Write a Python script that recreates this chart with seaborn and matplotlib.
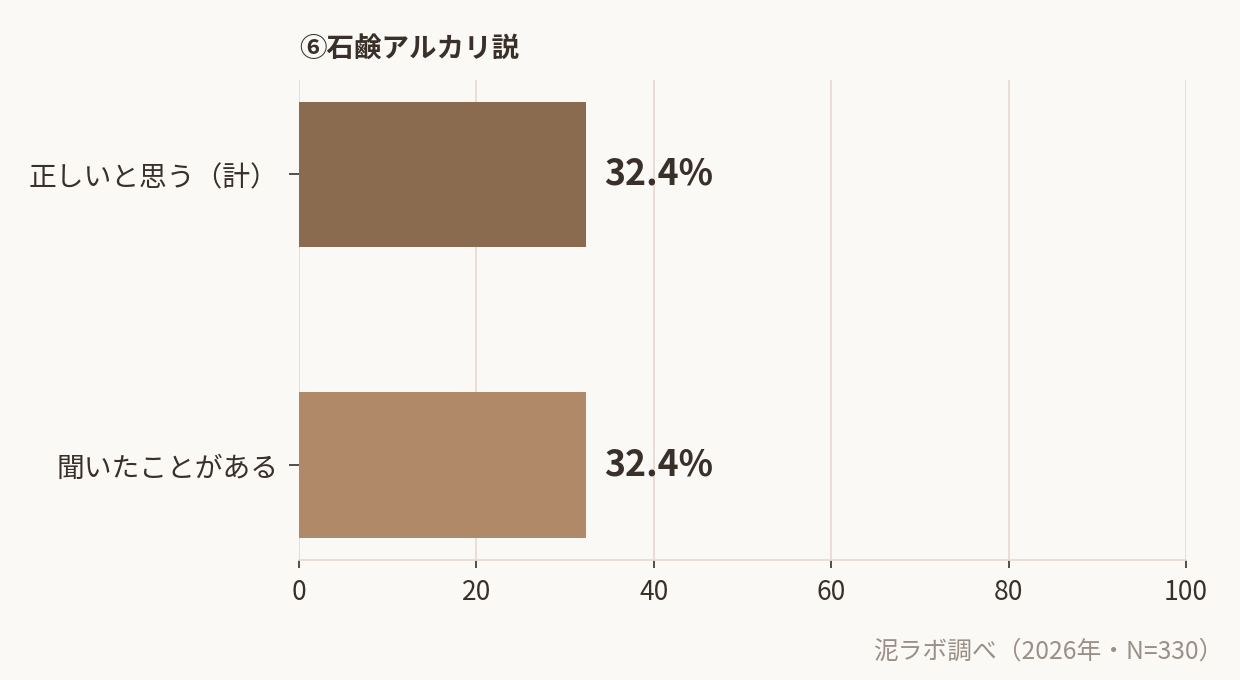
import matplotlib
matplotlib.use("Agg")
import matplotlib.pyplot as plt
import seaborn as sns
import pandas as pd

# data
categories = ["正しいと思う（計）", "聞いたことがある"]
values = [32.4, 32.4]
bar_colors = ["#8a6b4f", "#b08968"]
x_ticks = [0, 20, 40, 60, 80, 100]
title = "⑥石鹸アルカリ説"
source = "泥ラボ調べ（2026年・N=330）"

bg = "#fbf9f6"
text_c = "#3a302a"
grid_c = "#e8dcd2"

sns.set_theme(style="white")
plt.rcParams["font.family"] = ["Noto Sans CJK JP", "DejaVu Sans"]

df = pd.DataFrame({"label": categories, "value": values})

fig = plt.figure(figsize=(12.4, 6.8), dpi=100, facecolor=bg)
ax = fig.add_axes([0.2411, 0.1765, 0.7154, 0.7059])
ax.set_facecolor(bg)

sns.barplot(data=df, y="label", x="value", hue="label", palette=bar_colors,
            orient="h", width=0.5, legend=False, ax=ax, saturation=1,
            linewidth=0, edgecolor="none")

ax.set_xlim(0, 100)
ax.set_ylim(1.327, -0.325)
ax.set_xticks(x_ticks)
ax.xaxis.grid(True, color=grid_c, linewidth=1.3)
ax.yaxis.grid(False)
ax.set_axisbelow(True)

for s in ["top", "right", "left"]:
    ax.spines[s].set_visible(False)
ax.spines["bottom"].set_color(grid_c)
ax.spines["bottom"].set_linewidth(1.3)

ax.tick_params(axis="x", colors=text_c, labelsize=19, length=6, width=1.2,
               direction="out", bottom=True, pad=8)
ax.tick_params(axis="y", colors=text_c, labelsize=20, length=7, width=1.2,
               direction="out", left=True, pad=8)
ax.set_xlabel("")
ax.set_ylabel("")

for i, v in enumerate(values):
    ax.annotate(f"{v:.1f}%", xy=(v, i), xytext=(13, 0), textcoords="offset points",
                va="center", ha="left", fontsize=25.7, fontweight="bold", color=text_c)

ax.set_title(title, loc="left", fontsize=19.8, fontweight="bold", color=text_c, pad=17)

fig.text(0.987, 0.041, source, ha="right", va="center", fontsize=17.8, color="#9a8f86")

fig.savefig("out.png", dpi=100, facecolor=bg)
